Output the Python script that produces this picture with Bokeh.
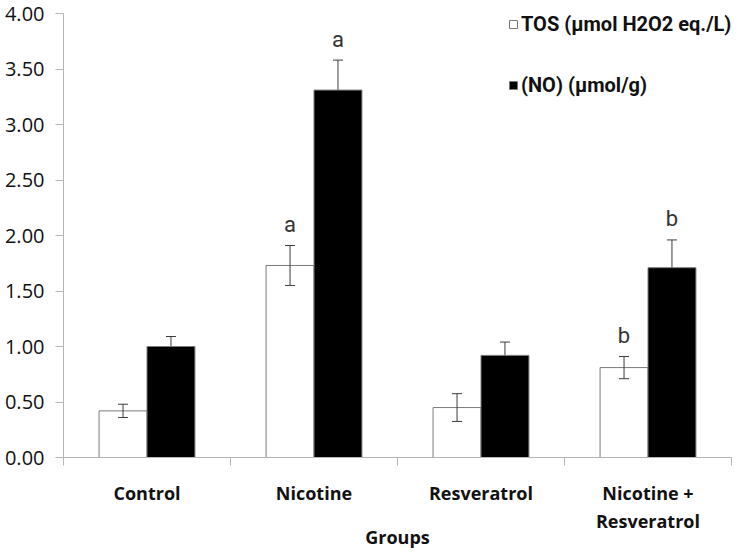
from bokeh.plotting import figure
from bokeh.models import (ColumnDataSource, FixedTicker, Whisker, TeeHead, Legend,
                          LegendItem, NumeralTickFormatter)
from bokeh.core.properties import value
from bokeh.transform import dodge
from bokeh.embed import file_html
from bokeh.resources import INLINE

# ---- data ----
groups = ["Control", "Nicotine", "Resveratrol", "Nicotine +\nResveratrol"]
tos = [0.42, 1.73, 0.45, 0.81]
tos_err = [0.06, 0.18, 0.125, 0.10]
no = [1.00, 3.31, 0.92, 1.71]
no_err = [0.09, 0.27, 0.12, 0.25]
tos_sig = ["", "a", "", "b"]
no_sig = ["", "a", "", "b"]
y_ticks = [0.0, 0.5, 1.0, 1.5, 2.0, 2.5, 3.0, 3.5, 4.0]
tos_label = "TOS (μmol H2O2 eq./L)"
no_label = "(NO) (μmol/g)"
x_title = "Groups"

centers = [i + 0.5 for i in range(len(groups))]
src = ColumnDataSource(dict(
    c=centers,
    tos=tos, tos_lo=[v - e for v, e in zip(tos, tos_err)], tos_hi=[v + e for v, e in zip(tos, tos_err)],
    no=no, no_lo=[v - e for v, e in zip(no, no_err)], no_hi=[v + e for v, e in zip(no, no_err)],
    tos_sig=tos_sig, no_sig=no_sig,
))

FONT = "Open Sans"
AX = "#b5b5b5"
OUT = "#7a7a7a"
W = 0.287
OFF = 0.1435

p = figure(width=750, height=552, x_range=(0, 4), y_range=(0, 4),
           output_backend="svg", toolbar_location=None,
           min_border_left=63, min_border_right=19, min_border_top=13, min_border_bottom=95)
p.outline_line_color = None
p.xgrid.visible = False
p.ygrid.visible = False

r1 = p.vbar(x=dodge("c", -OFF), top="tos", width=W, source=src,
            fill_color="white", line_color=OUT, line_width=1)
r2 = p.vbar(x=dodge("c", OFF), top="no", width=W, source=src,
            fill_color="black", line_color=OUT, line_width=1)

w1 = Whisker(base=dodge("c", -OFF), lower="tos_lo", upper="tos_hi", source=src,
             line_color="#3c3c3c", line_width=1, level="overlay",
             upper_head=TeeHead(size=10, line_color="#3c3c3c", line_width=1),
             lower_head=TeeHead(size=10, line_color="#3c3c3c", line_width=1))
w2 = Whisker(base=dodge("c", OFF), lower="no_lo", upper="no_hi", source=src,
             line_color="#3c3c3c", line_width=1, level="underlay",
             upper_head=TeeHead(size=10, line_color="#3c3c3c", line_width=1),
             lower_head=TeeHead(size=10, line_color="#3c3c3c", line_width=1))
p.add_layout(w1)
p.add_layout(w2)

for col_x, col_y, col_t in ((-OFF, "tos_hi", "tos_sig"), (OFF, "no_hi", "no_sig")):
    p.text(x=dodge("c", col_x), y=col_y, text=col_t, source=src, y_offset=-21,
           text_align="center", text_baseline="middle",
           text_font=value("Roboto"), text_font_size="22px", text_color="#333333")

# y axis
p.yaxis.ticker = FixedTicker(ticks=y_ticks)
p.yaxis.formatter = NumeralTickFormatter(format="0.00")
p.yaxis.major_tick_out = 8
p.yaxis.major_tick_in = 0
p.yaxis.minor_tick_out = 0
p.yaxis.minor_tick_in = 0
p.yaxis.axis_line_color = AX
p.yaxis.major_tick_line_color = AX
p.yaxis.major_label_standoff = 11
p.yaxis.major_label_text_font = FONT
p.yaxis.major_label_text_font_size = "20px"
p.yaxis.major_label_text_color = "#111111"

# x axis
p.xaxis.ticker = FixedTicker(ticks=centers, minor_ticks=[0, 1, 2, 3, 4])
p.xaxis.major_label_overrides = {c: g for c, g in zip(centers, groups)}
p.xaxis.major_tick_out = 0
p.xaxis.major_tick_in = 0
p.xaxis.minor_tick_out = 8
p.xaxis.minor_tick_in = 0
p.xaxis.axis_line_color = AX
p.xaxis.minor_tick_line_color = AX
p.xaxis.major_label_standoff = 15
p.xaxis.major_label_text_font = FONT
p.xaxis.major_label_text_font_style = "bold"
p.xaxis.major_label_text_font_size = "18px"
p.xaxis.major_label_text_color = "#111111"
p.xaxis.axis_label = x_title
p.xaxis.axis_label_standoff = -11
p.xaxis.axis_label_text_font = FONT
p.xaxis.axis_label_text_font_style = "bold"
p.xaxis.axis_label_text_font_size = "18px"
p.xaxis.axis_label_text_color = "#111111"

legend = Legend(items=[LegendItem(label=tos_label, renderers=[r1]),
                       LegendItem(label=no_label, renderers=[r2])],
                location=(445, 360), padding=0, margin=0, spacing=37,
                glyph_width=10, glyph_height=10, label_height=20, label_standoff=3,
                background_fill_alpha=0, border_line_color=None,
                label_text_font="Roboto", label_text_font_style="bold",
                label_text_font_size="20px", label_text_color="#111111")
p.add_layout(legend)

open("out.html", "w").write(file_html(p, INLINE))
